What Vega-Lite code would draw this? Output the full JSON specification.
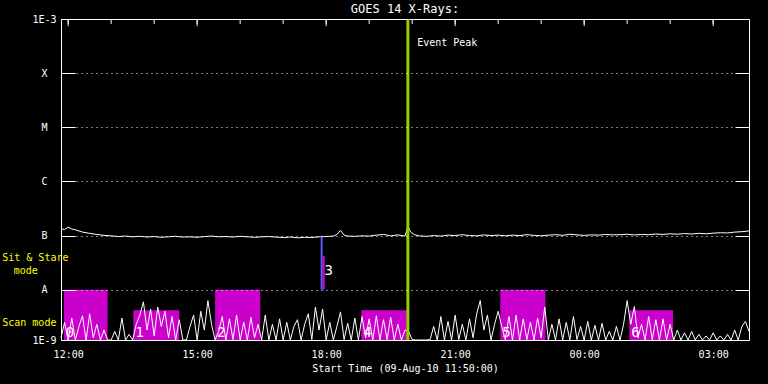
{
"$schema": "https://vega.github.io/schema/vega-lite/v6.json",
"width": 688, "height": 321,
"autosize": {"type": "none"},
"padding": {"left": 61, "top": 19, "right": 19, "bottom": 44},
"background": "black",
"title": {"text": "GOES 14 X-Rays:", "color": "white", "font": "DejaVu Sans Mono", "fontSize": 12, "fontWeight": "normal", "anchor": "middle", "offset": -2},
"config": {"view": {"stroke": "white", "strokeWidth": 1}},
"resolve": {"axis": {"x": "independent", "y": "independent"}},
"datasets": {
"long": [
{"t":"2010-08-09T11:50","v":1.33e-7},{"t":"2010-08-09T11:55","v":1.30e-7},{"t":"2010-08-09T12:00","v":1.43e-7},{"t":"2010-08-09T12:05","v":1.32e-7},{"t":"2010-08-09T12:10","v":1.28e-7},{"t":"2010-08-09T12:20","v":1.16e-7},{"t":"2010-08-09T12:30","v":1.10e-7},{"t":"2010-08-09T12:40","v":1.05e-7},{"t":"2010-08-09T12:50","v":1.01e-7},{"t":"2010-08-09T13:00","v":9.9e-8},{"t":"2010-08-09T13:10","v":9.6e-8},{"t":"2010-08-09T13:20","v":9.8e-8},{"t":"2010-08-09T13:30","v":9.5e-8},{"t":"2010-08-09T13:40","v":9.7e-8},{"t":"2010-08-09T13:50","v":9.4e-8},{"t":"2010-08-09T14:00","v":9.6e-8},{"t":"2010-08-09T14:10","v":9.3e-8},{"t":"2010-08-09T14:20","v":9.5e-8},{"t":"2010-08-09T14:30","v":9.7e-8},{"t":"2010-08-09T14:40","v":9.4e-8},{"t":"2010-08-09T14:50","v":9.5e-8},{"t":"2010-08-09T15:00","v":9.3e-8},{"t":"2010-08-09T15:10","v":9.6e-8},{"t":"2010-08-09T15:20","v":9.8e-8},{"t":"2010-08-09T15:30","v":9.5e-8},{"t":"2010-08-09T15:40","v":9.6e-8},{"t":"2010-08-09T15:50","v":9.4e-8},{"t":"2010-08-09T16:00","v":9.7e-8},{"t":"2010-08-09T16:10","v":9.5e-8},{"t":"2010-08-09T16:20","v":9.3e-8},{"t":"2010-08-09T16:30","v":9.5e-8},{"t":"2010-08-09T16:40","v":9.6e-8},{"t":"2010-08-09T16:50","v":9.4e-8},{"t":"2010-08-09T17:00","v":9.2e-8},{"t":"2010-08-09T17:10","v":9.4e-8},{"t":"2010-08-09T17:20","v":9.1e-8},{"t":"2010-08-09T17:30","v":9.3e-8},{"t":"2010-08-09T17:40","v":9.2e-8},{"t":"2010-08-09T17:50","v":9.5e-8},{"t":"2010-08-09T18:00","v":9.6e-8},{"t":"2010-08-09T18:10","v":9.8e-8},{"t":"2010-08-09T18:15","v":1.05e-7},{"t":"2010-08-09T18:20","v":1.25e-7},{"t":"2010-08-09T18:25","v":1.02e-7},{"t":"2010-08-09T18:30","v":9.8e-8},{"t":"2010-08-09T18:40","v":9.7e-8},{"t":"2010-08-09T18:50","v":9.9e-8},{"t":"2010-08-09T19:00","v":9.8e-8},{"t":"2010-08-09T19:10","v":1.02e-7},{"t":"2010-08-09T19:20","v":1.05e-7},{"t":"2010-08-09T19:30","v":9.9e-8},{"t":"2010-08-09T19:40","v":1.03e-7},{"t":"2010-08-09T19:50","v":9.8e-8},{"t":"2010-08-09T19:54","v":1.47e-7},{"t":"2010-08-09T19:58","v":1.16e-7},{"t":"2010-08-09T20:03","v":1.04e-7},{"t":"2010-08-09T20:10","v":9.9e-8},{"t":"2010-08-09T20:20","v":9.7e-8},{"t":"2010-08-09T20:30","v":1.00e-7},{"t":"2010-08-09T20:40","v":9.8e-8},{"t":"2010-08-09T20:50","v":1.02e-7},{"t":"2010-08-09T21:00","v":1.00e-7},{"t":"2010-08-09T21:10","v":1.04e-7},{"t":"2010-08-09T21:20","v":1.00e-7},{"t":"2010-08-09T21:30","v":9.9e-8},{"t":"2010-08-09T21:40","v":1.03e-7},{"t":"2010-08-09T21:50","v":1.00e-7},{"t":"2010-08-09T22:00","v":1.02e-7},{"t":"2010-08-09T22:10","v":9.9e-8},{"t":"2010-08-09T22:20","v":1.02e-7},{"t":"2010-08-09T22:30","v":1.00e-7},{"t":"2010-08-09T22:40","v":1.04e-7},{"t":"2010-08-09T22:50","v":1.01e-7},{"t":"2010-08-09T23:00","v":9.9e-8},{"t":"2010-08-09T23:10","v":1.02e-7},{"t":"2010-08-09T23:20","v":1.04e-7},{"t":"2010-08-09T23:30","v":1.01e-7},{"t":"2010-08-09T23:40","v":1.06e-7},{"t":"2010-08-09T23:50","v":1.03e-7},{"t":"2010-08-10T00:00","v":1.01e-7},{"t":"2010-08-10T00:10","v":1.03e-7},{"t":"2010-08-10T00:20","v":1.02e-7},{"t":"2010-08-10T00:30","v":1.05e-7},{"t":"2010-08-10T00:40","v":1.03e-7},{"t":"2010-08-10T00:50","v":1.04e-7},{"t":"2010-08-10T01:00","v":1.06e-7},{"t":"2010-08-10T01:10","v":1.03e-7},{"t":"2010-08-10T01:20","v":1.05e-7},{"t":"2010-08-10T01:30","v":1.04e-7},{"t":"2010-08-10T01:40","v":1.07e-7},{"t":"2010-08-10T01:50","v":1.05e-7},{"t":"2010-08-10T02:00","v":1.08e-7},{"t":"2010-08-10T02:10","v":1.06e-7},{"t":"2010-08-10T02:20","v":1.09e-7},{"t":"2010-08-10T02:30","v":1.07e-7},{"t":"2010-08-10T02:40","v":1.10e-7},{"t":"2010-08-10T02:50","v":1.08e-7},{"t":"2010-08-10T03:00","v":1.11e-7},{"t":"2010-08-10T03:10","v":1.13e-7},{"t":"2010-08-10T03:20","v":1.12e-7},{"t":"2010-08-10T03:30","v":1.16e-7},{"t":"2010-08-10T03:40","v":1.18e-7},{"t":"2010-08-10T03:50","v":1.22e-7}
],
"short": [
{"t":"2010-08-09T11:50","v":1.3e-9},{"t":"2010-08-09T11:55","v":2.5e-9},{"t":"2010-08-09T12:00","v":0.9e-9},{"t":"2010-08-09T12:05","v":3.0e-9},{"t":"2010-08-09T12:10","v":1.0e-9},{"t":"2010-08-09T12:15","v":2.1e-9},{"t":"2010-08-09T12:20","v":3.3e-9},{"t":"2010-08-09T12:25","v":0.9e-9},{"t":"2010-08-09T12:30","v":3.6e-9},{"t":"2010-08-09T12:35","v":1.3e-9},{"t":"2010-08-09T12:40","v":2.3e-9},{"t":"2010-08-09T12:45","v":0.9e-9},{"t":"2010-08-09T12:50","v":1.8e-9},{"t":"2010-08-09T12:55","v":0.9e-9},
{"t":"2010-08-09T13:00","v":0.9e-9},{"t":"2010-08-09T13:05","v":1.7e-9},{"t":"2010-08-09T13:10","v":0.9e-9},{"t":"2010-08-09T13:15","v":3.0e-9},{"t":"2010-08-09T13:20","v":1.0e-9},{"t":"2010-08-09T13:25","v":1.5e-9},{"t":"2010-08-09T13:30","v":0.9e-9},{"t":"2010-08-09T13:35","v":2.3e-9},{"t":"2010-08-09T13:40","v":3.4e-9},{"t":"2010-08-09T13:45","v":6.0e-9},{"t":"2010-08-09T13:50","v":1.8e-9},{"t":"2010-08-09T13:55","v":4.4e-9},
{"t":"2010-08-09T14:00","v":1.4e-9},{"t":"2010-08-09T14:05","v":4.8e-9},{"t":"2010-08-09T14:10","v":2.1e-9},{"t":"2010-08-09T14:15","v":4.0e-9},{"t":"2010-08-09T14:20","v":1.3e-9},{"t":"2010-08-09T14:25","v":3.2e-9},{"t":"2010-08-09T14:30","v":1.0e-9},{"t":"2010-08-09T14:35","v":2.8e-9},{"t":"2010-08-09T14:40","v":0.9e-9},{"t":"2010-08-09T14:45","v":0.9e-9},{"t":"2010-08-09T14:50","v":2.1e-9},{"t":"2010-08-09T14:55","v":3.4e-9},
{"t":"2010-08-09T15:00","v":1.0e-9},{"t":"2010-08-09T15:05","v":4.0e-9},{"t":"2010-08-09T15:10","v":1.8e-9},{"t":"2010-08-09T15:15","v":6.3e-9},{"t":"2010-08-09T15:20","v":2.3e-9},{"t":"2010-08-09T15:25","v":0.9e-9},{"t":"2010-08-09T15:30","v":1.7e-9},{"t":"2010-08-09T15:35","v":3.2e-9},{"t":"2010-08-09T15:40","v":1.0e-9},{"t":"2010-08-09T15:45","v":2.9e-9},{"t":"2010-08-09T15:50","v":1.2e-9},{"t":"2010-08-09T15:55","v":3.4e-9},
{"t":"2010-08-09T16:00","v":0.9e-9},{"t":"2010-08-09T16:05","v":2.5e-9},{"t":"2010-08-09T16:10","v":0.9e-9},{"t":"2010-08-09T16:15","v":3.1e-9},{"t":"2010-08-09T16:20","v":1.3e-9},{"t":"2010-08-09T16:25","v":2.3e-9},{"t":"2010-08-09T16:30","v":0.9e-9},{"t":"2010-08-09T16:35","v":3.4e-9},{"t":"2010-08-09T16:40","v":1.0e-9},{"t":"2010-08-09T16:45","v":2.3e-9},{"t":"2010-08-09T16:50","v":0.9e-9},{"t":"2010-08-09T16:55","v":2.9e-9},
{"t":"2010-08-09T17:00","v":1.0e-9},{"t":"2010-08-09T17:05","v":2.5e-9},{"t":"2010-08-09T17:10","v":0.9e-9},{"t":"2010-08-09T17:15","v":2.1e-9},{"t":"2010-08-09T17:20","v":2.8e-9},{"t":"2010-08-09T17:25","v":0.9e-9},{"t":"2010-08-09T17:30","v":2.3e-9},{"t":"2010-08-09T17:35","v":3.6e-9},{"t":"2010-08-09T17:40","v":1.2e-9},{"t":"2010-08-09T17:45","v":4.8e-9},{"t":"2010-08-09T17:50","v":1.8e-9},{"t":"2010-08-09T17:55","v":4.4e-9},
{"t":"2010-08-09T18:00","v":1.0e-9},{"t":"2010-08-09T18:05","v":2.5e-9},{"t":"2010-08-09T18:10","v":0.9e-9},{"t":"2010-08-09T18:15","v":2.1e-9},{"t":"2010-08-09T18:20","v":3.9e-9},{"t":"2010-08-09T18:25","v":1.2e-9},{"t":"2010-08-09T18:30","v":2.4e-9},{"t":"2010-08-09T18:35","v":0.9e-9},{"t":"2010-08-09T18:40","v":3.0e-9},{"t":"2010-08-09T18:45","v":1.0e-9},{"t":"2010-08-09T18:50","v":3.2e-9},{"t":"2010-08-09T18:55","v":1.3e-9},
{"t":"2010-08-09T19:00","v":2.9e-9},{"t":"2010-08-09T19:05","v":1.0e-9},{"t":"2010-08-09T19:10","v":3.3e-9},{"t":"2010-08-09T19:15","v":0.9e-9},{"t":"2010-08-09T19:20","v":2.8e-9},{"t":"2010-08-09T19:25","v":1.2e-9},{"t":"2010-08-09T19:30","v":3.1e-9},{"t":"2010-08-09T19:35","v":0.9e-9},{"t":"2010-08-09T19:40","v":2.3e-9},{"t":"2010-08-09T19:45","v":0.9e-9},{"t":"2010-08-09T19:50","v":1.8e-9},{"t":"2010-08-09T19:55","v":1.7e-9},
{"t":"2010-08-09T20:00","v":1.2e-9},{"t":"2010-08-09T20:05","v":0.9e-9},{"t":"2010-08-09T20:10","v":0.8e-9},{"t":"2010-08-09T20:15","v":0.9e-9},{"t":"2010-08-09T20:20","v":0.8e-9},{"t":"2010-08-09T20:25","v":1.2e-9},{"t":"2010-08-09T20:30","v":2.1e-9},{"t":"2010-08-09T20:35","v":0.9e-9},{"t":"2010-08-09T20:40","v":3.2e-9},{"t":"2010-08-09T20:45","v":1.0e-9},{"t":"2010-08-09T20:50","v":2.6e-9},{"t":"2010-08-09T20:55","v":0.9e-9},
{"t":"2010-08-09T21:00","v":3.4e-9},{"t":"2010-08-09T21:05","v":1.2e-9},{"t":"2010-08-09T21:10","v":2.3e-9},{"t":"2010-08-09T21:15","v":0.9e-9},{"t":"2010-08-09T21:20","v":2.9e-9},{"t":"2010-08-09T21:25","v":1.3e-9},{"t":"2010-08-09T21:30","v":3.6e-9},{"t":"2010-08-09T21:35","v":6.3e-9},{"t":"2010-08-09T21:40","v":1.8e-9},{"t":"2010-08-09T21:45","v":3.4e-9},{"t":"2010-08-09T21:50","v":1.0e-9},{"t":"2010-08-09T21:55","v":2.3e-9},
{"t":"2010-08-09T22:00","v":4.0e-9},{"t":"2010-08-09T22:05","v":2.1e-9},{"t":"2010-08-09T22:10","v":1.2e-9},{"t":"2010-08-09T22:15","v":3.2e-9},{"t":"2010-08-09T22:20","v":1.0e-9},{"t":"2010-08-09T22:25","v":3.4e-9},{"t":"2010-08-09T22:30","v":0.9e-9},{"t":"2010-08-09T22:35","v":2.9e-9},{"t":"2010-08-09T22:40","v":1.2e-9},{"t":"2010-08-09T22:45","v":2.5e-9},{"t":"2010-08-09T22:50","v":0.9e-9},{"t":"2010-08-09T22:55","v":3.0e-9},
{"t":"2010-08-09T23:00","v":1.3e-9},{"t":"2010-08-09T23:05","v":4.8e-9},{"t":"2010-08-09T23:10","v":0.9e-9},{"t":"2010-08-09T23:15","v":2.3e-9},{"t":"2010-08-09T23:20","v":1.0e-9},{"t":"2010-08-09T23:25","v":2.9e-9},{"t":"2010-08-09T23:30","v":1.0e-9},{"t":"2010-08-09T23:35","v":2.5e-9},{"t":"2010-08-09T23:40","v":0.9e-9},{"t":"2010-08-09T23:45","v":3.2e-9},{"t":"2010-08-09T23:50","v":1.2e-9},{"t":"2010-08-09T23:55","v":2.1e-9},
{"t":"2010-08-10T00:00","v":0.9e-9},{"t":"2010-08-10T00:05","v":2.6e-9},{"t":"2010-08-10T00:10","v":1.0e-9},{"t":"2010-08-10T00:15","v":2.2e-9},{"t":"2010-08-10T00:20","v":0.9e-9},{"t":"2010-08-10T00:25","v":2.4e-9},{"t":"2010-08-10T00:30","v":1.0e-9},{"t":"2010-08-10T00:35","v":1.7e-9},{"t":"2010-08-10T00:40","v":0.9e-9},{"t":"2010-08-10T00:45","v":2.1e-9},{"t":"2010-08-10T00:50","v":1.0e-9},{"t":"2010-08-10T00:55","v":2.3e-9},
{"t":"2010-08-10T01:00","v":6.3e-9},{"t":"2010-08-10T01:05","v":2.3e-9},{"t":"2010-08-10T01:10","v":4.9e-9},{"t":"2010-08-10T01:15","v":1.3e-9},{"t":"2010-08-10T01:20","v":2.3e-9},{"t":"2010-08-10T01:25","v":0.9e-9},{"t":"2010-08-10T01:30","v":3.2e-9},{"t":"2010-08-10T01:35","v":1.2e-9},{"t":"2010-08-10T01:40","v":2.8e-9},{"t":"2010-08-10T01:45","v":0.9e-9},{"t":"2010-08-10T01:50","v":2.9e-9},{"t":"2010-08-10T01:55","v":1.0e-9},
{"t":"2010-08-10T02:00","v":2.3e-9},{"t":"2010-08-10T02:05","v":1.0e-9},{"t":"2010-08-10T02:10","v":1.8e-9},{"t":"2010-08-10T02:15","v":0.9e-9},{"t":"2010-08-10T02:20","v":1.6e-9},{"t":"2010-08-10T02:25","v":0.9e-9},{"t":"2010-08-10T02:30","v":1.7e-9},{"t":"2010-08-10T02:35","v":0.9e-9},{"t":"2010-08-10T02:40","v":1.5e-9},{"t":"2010-08-10T02:45","v":0.9e-9},{"t":"2010-08-10T02:50","v":1.4e-9},{"t":"2010-08-10T02:55","v":0.9e-9},
{"t":"2010-08-10T03:00","v":1.6e-9},{"t":"2010-08-10T03:05","v":0.9e-9},{"t":"2010-08-10T03:10","v":1.4e-9},{"t":"2010-08-10T03:15","v":0.9e-9},{"t":"2010-08-10T03:20","v":1.5e-9},{"t":"2010-08-10T03:25","v":1.0e-9},{"t":"2010-08-10T03:30","v":1.8e-9},{"t":"2010-08-10T03:35","v":0.9e-9},{"t":"2010-08-10T03:40","v":2.1e-9},{"t":"2010-08-10T03:45","v":2.6e-9},{"t":"2010-08-10T03:50","v":1.7e-9}
],
"blocks": [
{"n":"0","t":"2010-08-09T11:54","t2":"2010-08-09T12:55","v":1e-9,"v2":1e-8,"ly":1.59e-9},
{"n":"1","t":"2010-08-09T13:31","t2":"2010-08-09T14:35","v":1e-9,"v2":4.2e-9,"ly":1.59e-9},
{"n":"2","t":"2010-08-09T15:25","t2":"2010-08-09T16:28","v":1e-9,"v2":1e-8,"ly":1.59e-9},
{"n":"3","t":"2010-08-09T17:55","t2":"2010-08-09T17:58","v":1e-8,"v2":4.24e-8,"ly":2.24e-8},
{"n":"4","t":"2010-08-09T18:49","t2":"2010-08-09T19:53","v":1e-9,"v2":4.2e-9,"ly":1.59e-9},
{"n":"5","t":"2010-08-09T22:03","t2":"2010-08-09T23:06","v":1e-9,"v2":1e-8,"ly":1.59e-9},
{"n":"6","t":"2010-08-10T01:03","t2":"2010-08-10T02:04","v":1e-9,"v2":4.2e-9,"ly":1.59e-9}
],
"peak": [{"t":"2010-08-09T19:54","v":1e-9,"v2":1e-3}],
"pointing": [{"t":"2010-08-09T17:53:40","v":1e-8,"v2":1e-7}],
"hours": [
{"t":"2010-08-09T12:00"},{"t":"2010-08-09T13:00"},{"t":"2010-08-09T14:00"},{"t":"2010-08-09T15:00"},{"t":"2010-08-09T16:00"},{"t":"2010-08-09T17:00"},{"t":"2010-08-09T18:00"},{"t":"2010-08-09T19:00"},{"t":"2010-08-09T20:00"},{"t":"2010-08-09T21:00"},{"t":"2010-08-09T22:00"},{"t":"2010-08-09T23:00"},{"t":"2010-08-10T00:00"},{"t":"2010-08-10T01:00"},{"t":"2010-08-10T02:00"},{"t":"2010-08-10T03:00"}
],
"majorhours": [
{"t":"2010-08-09T12:00"},{"t":"2010-08-09T15:00"},{"t":"2010-08-09T18:00"},{"t":"2010-08-09T21:00"},{"t":"2010-08-10T00:00"},{"t":"2010-08-10T03:00"}
],
"modes": [
{"t":"2010-08-09T10:28","v":3.82e-8,"s":"Sit & Stare"},
{"t":"2010-08-09T10:44","v":2.24e-8,"s":"mode"},
{"t":"2010-08-09T10:28","v":2.43e-9,"s":"Scan mode"}
],
"peaklabel": [{"t":"2010-08-09T20:07","v":3.68e-4,"s":"Event Peak"}]
},
"layer": [
{
"data": {"name": "blocks"},
"mark": {"type": "rect", "color": "#cc00cc"},
"encoding": {
"x": {"field": "t", "type": "temporal", "scale": {"domain": ["2010-08-09T11:50", "2010-08-10T03:50"], "nice": false},
"axis": {"orient": "bottom", "values": [{"year": 2010, "month": 8, "date": 9, "hours": 12}, {"year": 2010, "month": 8, "date": 9, "hours": 15}, {"year": 2010, "month": 8, "date": 9, "hours": 18}, {"year": 2010, "month": 8, "date": 9, "hours": 21}, {"year": 2010, "month": 8, "date": 10, "hours": 0}, {"year": 2010, "month": 8, "date": 10, "hours": 3}], "format": "%H:%M", "ticks": false, "domain": false, "grid": false, "labelFont": "DejaVu Sans Mono", "labelFontSize": 10, "labelColor": "white", "labelPadding": 9, "labelFlush": false, "title": "Start Time (09-Aug-10 11:50:00)", "titleFont": "DejaVu Sans Mono", "titleFontSize": 10, "titleFontWeight": "normal", "titleColor": "white", "titlePadding": 4}},
"x2": {"field": "t2"},
"y": {"field": "v", "type": "quantitative", "scale": {"type": "log", "domain": [1.18e-9, 1e-3], "nice": false, "clamp": true},
"axis": {"orient": "left", "values": [1.18e-9, 1e-8, 1e-7, 1e-6, 1e-5, 1e-4, 1e-3], "labelExpr": "['1E-9','A','B','C','M','X','1E-3'][round(log(datum.value)/LN10)+9]", "tickSize": -14, "tickColor": "white", "domain": false, "grid": true, "gridColor": "white", "gridDash": [1, 4], "gridOpacity": 1, "labelFont": "DejaVu Sans Mono", "labelFontSize": 10, "labelColor": "white", "labelAlign": "center", "labelBaseline": "middle", "labelPadding": 31, "title": null, "zindex": 1}},
"y2": {"field": "v2"}
}
},
{
"data": {"name": "short"},
"mark": {"type": "line", "color": "white", "strokeWidth": 1},
"encoding": {
"x": {"field": "t", "type": "temporal", "axis": null},
"y": {"field": "v", "type": "quantitative",
"axis": {"orient": "right", "values": [1e-8, 1e-7, 1e-6, 1e-5, 1e-4], "labels": false, "domain": false, "grid": false, "ticks": true, "tickColor": "white", "tickSize": -14, "title": null, "zindex": 1}}
}
},
{
"data": {"name": "long"},
"mark": {"type": "line", "color": "white", "strokeWidth": 1},
"encoding": {
"x": {"field": "t", "type": "temporal", "axis": null},
"y": {"field": "v", "type": "quantitative", "axis": null}
}
},
{
"data": {"name": "hours"},
"mark": {"type": "rule", "color": "white", "strokeWidth": 1},
"encoding": {
"x": {"field": "t", "type": "temporal", "axis": null},
"y": {"datum": 1e-3, "type": "quantitative", "axis": null},
"y2": {"datum": 8.1e-4}
}
},
{
"data": {"name": "majorhours"},
"mark": {"type": "rule", "color": "white", "strokeWidth": 1},
"encoding": {
"x": {"field": "t", "type": "temporal", "axis": null},
"y": {"datum": 1e-3, "type": "quantitative", "axis": null},
"y2": {"datum": 7.4e-4}
}
},
{
"data": {"name": "peak"},
"mark": {"type": "rule", "color": "#99cc00", "strokeWidth": 3},
"encoding": {
"x": {"field": "t", "type": "temporal", "axis": null},
"y": {"field": "v", "type": "quantitative", "axis": null},
"y2": {"field": "v2"}
}
},
{
"data": {"name": "pointing"},
"mark": {"type": "rule", "color": "#5a5aff", "strokeWidth": 2},
"encoding": {
"x": {"field": "t", "type": "temporal", "axis": null},
"y": {"field": "v", "type": "quantitative", "axis": null},
"y2": {"field": "v2"}
}
},
{
"data": {"name": "blocks"},
"mark": {"type": "text", "color": "white", "font": "DejaVu Sans Mono", "fontSize": 14, "align": "left", "baseline": "middle", "dx": 2},
"encoding": {
"x": {"field": "t", "type": "temporal", "axis": null},
"y": {"field": "ly", "type": "quantitative", "axis": null},
"text": {"field": "n"}
}
},
{
"data": {"name": "modes"},
"mark": {"type": "text", "color": "#ffff00", "font": "DejaVu Sans Mono", "fontSize": 10, "align": "left", "baseline": "middle"},
"encoding": {
"x": {"field": "t", "type": "temporal", "axis": null},
"y": {"field": "v", "type": "quantitative", "axis": null},
"text": {"field": "s"}
}
},
{
"data": {"name": "peaklabel"},
"mark": {"type": "text", "color": "white", "font": "DejaVu Sans Mono", "fontSize": 10, "align": "left", "baseline": "middle"},
"encoding": {
"x": {"field": "t", "type": "temporal", "axis": null},
"y": {"field": "v", "type": "quantitative", "axis": null},
"text": {"field": "s"}
}
}
]
}
